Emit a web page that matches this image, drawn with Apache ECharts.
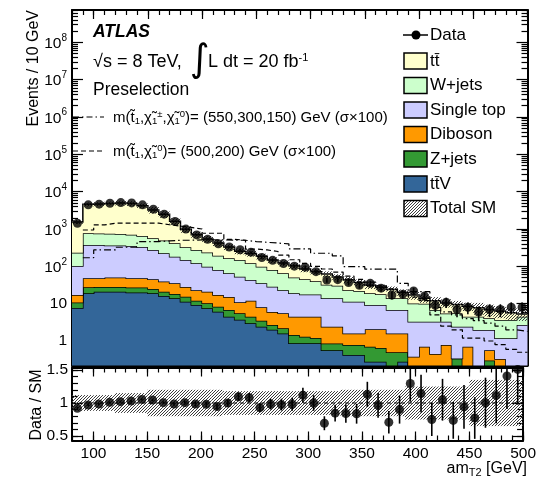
<!DOCTYPE html>
<html>
<head>
<meta charset="utf-8">
<title>amT2 preselection</title>
<script src="https://cdn.jsdelivr.net/npm/echarts@6.0.0/dist/echarts.min.js"></script>
<style>
html,body{margin:0;padding:0;background:#ffffff;}
#chart{width:539px;height:480px;}
</style>
</head>
<body>
<div id="chart"></div>
<script>
// am_T2 bins, lower edges in GeV (10 GeV wide)
const binLow = [80,90,100,110,120,130,140,150,160,170,180,190,200,210,220,230,240,250,260,270,
                280,290,300,310,320,330,340,350,360,370,380,390,400,410,420,430,440,450,460,470,480,490];
const binWidth = 10;

// Background yields, events / 10 GeV (stacked bottom to top)
const ttV = [7.7,19,21,21,21,20,20,19,16,14,11.3,9.2,7.5,6.1,4.5,3.7,3.0,2.4,2.0,1.6,
             0.87,0.87,0.87,0.57,0.57,0.42,0.42,0.28,0.28,0,0.28,0,0,0,0,0,0,0,0,0,0,0];
const zJets = [3.1,8.5,7,7,7,7,7,5.8,5,4.2,4.1,2.8,2.7,2.2,2.3,1.8,1.5,1.1,0.7,0.6,
               0.58,0.43,0.33,0.29,0.29,0.36,0.36,0.42,0.37,0.5,0.22,0,0,0,0,0.34,0,0,0.3,0,0,0];
const diboson = [6.2,20.5,20,22,22,21,21,20.2,18,16.8,12.6,11,10.8,8.7,8.2,5.5,7.5,4.5,3.3,3.3,
                 3.05,3.2,3.3,1.54,1.54,0.82,0.82,1.36,1.41,1.1,1.1,0.38,0.7,0.45,0.78,0,0.7,0,0.27,0.33,0,0];
const singleTop = [85,327,322,310,310,302,282,230,185,147,120,98,77,63,50,42,31,27,22.6,17.5,
                   14.5,13,13,11.6,11.6,9.7,9.7,7.1,7.1,5.2,5.2,2.9,2.6,2.85,2.5,2.06,1.7,1.97,1.4,0.85,1.18,2.7];
const wJets = [128,395,390,390,380,350,320,290,266,233,177,154,136,111,100,95,78,63,51,42,
               31,27.5,22.5,18,16,11.7,10.7,9.8,8.8,7.2,7.2,6.9,6.7,3.5,2.2,3.1,2.1,2.5,2.1,2.5,2.5,1.8];
const ttbar = [1320,3800,3930,4100,4260,4150,3550,2685,2000,1195,665,430,306,234,165,107,101,87,68,57,
               53,40,32,30,22,21,15,12,9,10,6,6.8,4,5.2,5,4,4,3.3,2.9,2.6,2,0.8];

// Observed events per bin
const dataCounts = [1426,4433,4620,4899,5100,4996,4431,3396,2502,1586,995,694,529,402,330,279,240,172,145,119,
                    101,95,72,43,44,37,31,35,26,17,18,22,16,9,11,7,8,6,7,7,8,8];

// Relative uncertainty on the total SM prediction
const totalSMRelUnc = [0.12,0.12,0.12,0.12,0.15,0.15,0.15,0.2,0.2,0.2,0.2,0.2,0.2,0.2,0.18,0.18,0.18,0.18,0.18,0.18,
                       0.18,0.18,0.18,0.18,0.18,0.2,0.2,0.2,0.2,0.2,0.2,0.25,0.25,0.25,0.25,0.25,0.25,0.35,0.35,0.35,0.35,0.35];

// Signal benchmarks, cross section scaled by 100
const sigStopChargino = [null,170,275,275,325,325,460,460,480,500,500,510,510,510,500,500,460,440,420,400,
                         293,293,224,224,190,98,98,84,84,84,35,21,21,8,6,5,4,3.5,3,2.5,2,1.8];
const sigStopNeutralino = [null,940,1290,1430,1430,1430,1430,1430,1300,1200,1100,1000,770,770,530,500,290,275,250,200,
                           150,120,100,85,70,55,45,38,30,25,20,15,12,5,2.5,2,1.2,1.2,1.0,0.8,0.6,0.5];

// Axis tick positions
const xMajorTicks = [100,150,200,250,300,350,400,450,500];
const xMinorTicks = [80,90,100,110,120,130,140,150,160,170,180,190,200,210,220,230,240,250,260,270,280,290,
                     300,310,320,330,340,350,360,370,380,390,400,410,420,430,440,450,460,470,480,490,500];
const yMajorTicks = [1,10,100,1e3,1e4,1e5,1e6,1e7,1e8];
const ratioMajorTicks = [0.5,1,1.5];
const ratioMinorTicks = [0.5,0.6,0.7,0.8,0.9,1,1.1,1.2,1.3,1.4,1.5];

const FONT = '"Liberation Sans", Arial, Helvetica, sans-serif';
const Y_MIN = 0.221, Y_MAX = 7.33e8;
const R_MIN = 0.432, R_MAX = 1.538;
const X_MIN = 80, X_MAX = 500;
const nb = binLow.length;

const yMinorTicks = [];
for (let e = -1; e <= 8; e++) {
  for (let m = 2; m <= 9; m++) {
    const v = m * Math.pow(10, e);
    if (v > Y_MIN && v < Y_MAX) yMinorTicks.push(v);
  }
}

const layers = [
  { name: 'ttV', values: ttV, color: '#336699' },
  { name: 'Z+jets', values: zJets, color: '#339933' },
  { name: 'Diboson', values: diboson, color: '#ff9900' },
  { name: 'Single top', values: singleTop, color: '#ccccff' },
  { name: 'W+jets', values: wJets, color: '#ccffcc' },
  { name: 'ttbar', values: ttbar, color: '#ffffcc' }
];
const cum = [];
layers.forEach((l, L) => cum.push(l.values.map((v, i) => v + (L ? cum[L - 1][i] : 0))));
const totalSM = cum[cum.length - 1];

function makeHatch(color) {
  const c = document.createElement('canvas');
  c.width = 3; c.height = 3;
  const g = c.getContext('2d');
  g.strokeStyle = color; g.lineWidth = 1;
  g.beginPath();
  g.moveTo(0, 3); g.lineTo(3, 0);
  g.moveTo(-1, 1); g.lineTo(1, -1);
  g.moveTo(2, 4); g.lineTo(4, 2);
  g.stroke();
  return c;
}
const HATCH = { type: 'pattern', image: makeHatch('#3c3c3c'), repeat: 'repeat' };

const clampY = v => Math.min(Math.max(v, Y_MIN), Y_MAX);
const clampR = v => Math.min(Math.max(v, R_MIN), R_MAX);

// Filled step histogram for one stack layer, with its black top outline
function stackLayer(params, api) {
  const L = api.value(2);
  const upper = cum[L];
  const lower = L > 0 ? cum[L - 1] : null;
  const top = [], bot = [];
  for (let i = 0; i < nb; i++) {
    const x0 = binLow[i], x1 = binLow[i] + binWidth;
    const yt = clampY(upper[i]);
    const yb = lower ? clampY(lower[i]) : Y_MIN;
    top.push(api.coord([x0, yt]), api.coord([x1, yt]));
    bot.push(api.coord([x0, yb]), api.coord([x1, yb]));
  }
  return {
    type: 'group',
    children: [
      { type: 'polygon', shape: { points: top.concat(bot.slice().reverse()) }, style: { fill: layers[L].color, stroke: null } },
      { type: 'polyline', shape: { points: top }, style: { fill: null, stroke: '#000', lineWidth: 1.5 } }
    ]
  };
}

function bandRect(params, api) {
  const p0 = api.coord([api.value(0), api.value(3)]);
  const p1 = api.coord([api.value(1), api.value(2)]);
  return { type: 'rect', shape: { x: p0[0], y: p0[1], width: p1[0] - p0[0], height: p1[1] - p0[1] },
           style: { fill: HATCH, stroke: null } };
}

function errBar(params, api) {
  const a = api.coord([api.value(0), api.value(1)]);
  const b = api.coord([api.value(0), api.value(2)]);
  return { type: 'line', shape: { x1: a[0], y1: a[1], x2: b[0], y2: b[1] }, style: { stroke: '#000', lineWidth: 1.6 } };
}

const centers = binLow.map(x => x + binWidth / 2);
const ratio = dataCounts.map((d, i) => d / totalSM[i]);

const stepData = arr => binLow.map((x, i) => [x, arr[i]]).concat([[X_MAX, arr[nb - 1]]]);

// axis builders
function xAxisDef(grid, pos, ticks, len, withLine, withLabels) {
  return {
    type: 'value', gridIndex: grid, position: pos, min: X_MIN, max: X_MAX,
    axisLine: { show: withLine, onZero: false, lineStyle: { color: '#000', width: 2 } },
    axisTick: { show: true, inside: true, length: len, customValues: ticks, lineStyle: { color: '#000', width: 1.2 } },
    axisLabel: withLabels
      ? { show: true, customValues: ticks, margin: 5, color: '#000', fontFamily: FONT, fontSize: 15.5 }
      : { show: false },
    splitLine: { show: false }
  };
}
function yLogDef(pos, ticks, len, withLine, withLabels) {
  return {
    type: 'log', logBase: 10, gridIndex: 0, position: pos, min: Y_MIN, max: Y_MAX,
    axisLine: { show: withLine, onZero: false, lineStyle: { color: '#000', width: 2 } },
    axisTick: { show: true, inside: true, length: len, customValues: ticks, lineStyle: { color: '#000', width: 1.2 } },
    axisLabel: withLabels ? {
      show: true, customValues: ticks, margin: 5, color: '#000',
      formatter: v => {
        const e = Math.round(Math.log10(v));
        if (e === 0) return '{b|1}';
        if (e === 1) return '{b|10}';
        return '{b|10}{s|' + e + '}';
      },
      rich: {
        b: { fontFamily: FONT, fontSize: 15.5, color: '#000', verticalAlign: 'bottom' },
        s: { fontFamily: FONT, fontSize: 10, color: '#000', verticalAlign: 'top', padding: [0, 0, 9, 0] }
      }
    } : { show: false },
    splitLine: { show: false }
  };
}
function yRatioDef(pos, ticks, len, withLine, withLabels) {
  return {
    type: 'value', gridIndex: 1, position: pos, min: R_MIN, max: R_MAX,
    axisLine: { show: withLine, onZero: false, lineStyle: { color: '#000', width: 2 } },
    axisTick: { show: true, inside: true, length: len, customValues: ticks, lineStyle: { color: '#000', width: 1.2 } },
    axisLabel: withLabels
      ? { show: true, customValues: ticks, margin: 4, color: '#000', fontFamily: FONT, fontSize: 15.5 }
      : { show: false },
    splitLine: { show: false }
  };
}

const chart = echarts.init(document.getElementById('chart'), null, { renderer: 'canvas', width: 539, height: 480 });

const legendRows = [
  { label: 'tt\u0304', fill: '#ffffcc', y: 61 },
  { label: 'W+jets', fill: '#ccffcc', y: 85.5 },
  { label: 'Single top', fill: '#ccccff', y: 110 },
  { label: 'Diboson', fill: '#ff9900', y: 134.5 },
  { label: 'Z+jets', fill: '#339933', y: 159 },
  { label: 'tt\u0304V', fill: '#336699', y: 184 },
  { label: 'Total SM', fill: HATCH, y: 208.5 }
];

const richSig = {
  n: { fontFamily: FONT, fontSize: 15, fill: '#000' },
  d: { fontFamily: FONT, fontSize: 9.5, fill: '#000', verticalAlign: 'bottom', padding: [7, 0, 0, 0] },
  u: { fontFamily: FONT, fontSize: 9.5, fill: '#000', verticalAlign: 'top', padding: [0, 0, 7, 0] }
};

const graphics = [
  { type: 'text', x: 93, y: 32, style: { text: 'ATLAS', font: 'italic bold 17.5px ' + FONT, fill: '#000', verticalAlign: 'middle' } },
  { type: 'text', x: 93, y: 62, style: { text: '\u221As = 8 TeV,', font: '18px ' + FONT, fill: '#000', verticalAlign: 'middle' } },
  { type: 'text', x: 190, y: 61, style: { text: '\u222B', font: '38px "DejaVu Sans", ' + FONT, fill: '#000', verticalAlign: 'middle' } },
  { type: 'text', x: 208, y: 62, style: {
      text: '{n|L dt = 20 fb}{s|-1}', verticalAlign: 'middle',
      rich: { n: { fontFamily: FONT, fontSize: 18, fill: '#000', verticalAlign: 'bottom' },
              s: { fontFamily: FONT, fontSize: 11, fill: '#000', verticalAlign: 'top', padding: [0, 0, 8, 0] } } } },
  { type: 'text', x: 93, y: 90, style: { text: 'Preselection', font: '17.5px ' + FONT, fill: '#000', verticalAlign: 'middle' } },
  { type: 'line', shape: { x1: 73, y1: 117, x2: 104, y2: 117 }, style: { stroke: '#000', lineWidth: 1.2, lineDash: [6, 3, 1.5, 3] } },
  { type: 'text', x: 113, y: 118, style: {
      text: '{n|m(t\u0303}{d|1}{n|,\u03C7\u0303}{d|1}{u|\u00B1}{n|,\u03C7\u0303}{d|1}{u|0}{n|)= (550,300,150) GeV (\u03C3\u00D7100)}',
      verticalAlign: 'middle', rich: richSig } },
  { type: 'line', shape: { x1: 73, y1: 151, x2: 104, y2: 151 }, style: { stroke: '#000', lineWidth: 1.2, lineDash: [5, 3] } },
  { type: 'text', x: 113, y: 152, style: {
      text: '{n|m(t\u0303}{d|1}{n|,\u03C7\u0303}{d|1}{u|0}{n|)= (500,200) GeV (\u03C3\u00D7100)}',
      verticalAlign: 'middle', rich: richSig } },
  // legend: data marker
  { type: 'line', shape: { x1: 403, y1: 35, x2: 428, y2: 35 }, style: { stroke: '#000', lineWidth: 1.5 } },
  { type: 'circle', shape: { cx: 416, cy: 35, r: 4.5 }, style: { fill: '#000' } },
  { type: 'text', x: 430, y: 35, style: { text: 'Data', font: '17px ' + FONT, fill: '#000', verticalAlign: 'middle' } },
  // axis titles
  { type: 'text', x: 34, y: 10, rotation: Math.PI / 2, style: { text: 'Events / 10 GeV', font: '16px ' + FONT, fill: '#000', align: 'right', verticalAlign: 'middle' } },
  { type: 'text', x: 37, y: 405, rotation: Math.PI / 2, style: { text: 'Data / SM', font: '16px ' + FONT, fill: '#000', align: 'center', verticalAlign: 'middle' } },
  { type: 'text', x: 527, y: 469, style: {
      text: '{n|am}{d|T2}{n| [GeV]}', align: 'right', verticalAlign: 'middle',
      rich: { n: { fontFamily: FONT, fontSize: 16, fill: '#000' },
              d: { fontFamily: FONT, fontSize: 11, fill: '#000', verticalAlign: 'bottom', padding: [7, 0, 0, 0] } } } }
];
legendRows.forEach(r => {
  graphics.push({ type: 'rect', shape: { x: 404, y: r.y - 8, width: 23, height: 16 }, style: { fill: r.fill, stroke: '#000', lineWidth: 1.5 } });
  graphics.push({ type: 'text', x: 430, y: r.y, style: { text: r.label, font: '17px ' + FONT, fill: '#000', verticalAlign: 'middle' } });
});

const option = {
  animation: false,
  backgroundColor: '#ffffff',
  grid: [
    { left: 72, top: 10, width: 455.5, height: 355.5 },
    { left: 72, top: 367.5, width: 455.5, height: 73 }
  ],
  xAxis: [
    xAxisDef(0, 'bottom', xMajorTicks, 9, true, false),
    xAxisDef(0, 'bottom', xMinorTicks, 5, false, false),
    xAxisDef(0, 'top', xMajorTicks, 9, true, false),
    xAxisDef(0, 'top', xMinorTicks, 5, false, false),
    xAxisDef(1, 'bottom', xMajorTicks, 9, true, true),
    xAxisDef(1, 'bottom', xMinorTicks, 5, false, false),
    xAxisDef(1, 'top', xMajorTicks, 9, true, false),
    xAxisDef(1, 'top', xMinorTicks, 5, false, false)
  ],
  yAxis: [
    yLogDef('left', yMajorTicks, 11, true, true),
    yLogDef('left', yMinorTicks, 6, false, false),
    yLogDef('right', yMajorTicks, 11, true, false),
    yLogDef('right', yMinorTicks, 6, false, false),
    yRatioDef('left', ratioMajorTicks, 11, true, true),
    yRatioDef('left', ratioMinorTicks, 6, false, false),
    yRatioDef('right', ratioMajorTicks, 11, true, false),
    yRatioDef('right', ratioMinorTicks, 6, false, false)
  ],
  series: [
    {
      type: 'custom', name: 'SM stack', xAxisIndex: 0, yAxisIndex: 0, silent: true,
      renderItem: stackLayer,
      data: layers.map((l, L) => [X_MIN, 1, L])
    },
    {
      type: 'custom', name: 'Total SM', xAxisIndex: 0, yAxisIndex: 0, silent: true,
      renderItem: bandRect,
      data: binLow.map((x, i) => [x, x + binWidth, clampY(totalSM[i] * (1 - totalSMRelUnc[i])), clampY(totalSM[i] * (1 + totalSMRelUnc[i]))])
    },
    {
      type: 'line', name: 'stop-chargino', xAxisIndex: 0, yAxisIndex: 0, step: 'end', symbol: 'none', silent: true,
      lineStyle: { color: '#000', width: 1.2, type: [7, 3, 1.5, 3] },
      data: stepData(sigStopChargino)
    },
    {
      type: 'line', name: 'stop-neutralino', xAxisIndex: 0, yAxisIndex: 0, step: 'end', symbol: 'none', silent: true,
      lineStyle: { color: '#000', width: 1.2, type: [5, 3] },
      data: stepData(sigStopNeutralino)
    },
    {
      type: 'custom', name: 'Data errors', xAxisIndex: 0, yAxisIndex: 0, silent: true,
      renderItem: errBar,
      data: centers.map((x, i) => [x, clampY(dataCounts[i] - Math.sqrt(dataCounts[i])), clampY(dataCounts[i] + Math.sqrt(dataCounts[i]))])
    },
    {
      type: 'scatter', name: 'Data', xAxisIndex: 0, yAxisIndex: 0, symbol: 'circle', symbolSize: 9, silent: true,
      itemStyle: { color: '#000' },
      data: centers.map((x, i) => [x, dataCounts[i]])
    },
    {
      type: 'custom', name: 'Total SM ratio', xAxisIndex: 4, yAxisIndex: 4, silent: true,
      renderItem: bandRect,
      data: binLow.map((x, i) => [x, x + binWidth, clampR(1 - totalSMRelUnc[i]), clampR(1 + totalSMRelUnc[i])])
    },
    {
      type: 'line', name: 'unity', xAxisIndex: 4, yAxisIndex: 4, symbol: 'none', silent: true,
      lineStyle: { color: '#000', width: 1, type: [4, 3] },
      data: [[X_MIN, 1], [X_MAX, 1]]
    },
    {
      type: 'custom', name: 'Ratio errors', xAxisIndex: 4, yAxisIndex: 4, silent: true,
      renderItem: errBar,
      data: centers.map((x, i) => {
        const e = ratio[i] / Math.sqrt(dataCounts[i]);
        return [x, clampR(ratio[i] - e), clampR(ratio[i] + e)];
      })
    },
    {
      type: 'scatter', name: 'Data / SM', xAxisIndex: 4, yAxisIndex: 4, symbol: 'circle', symbolSize: 9, silent: true,
      itemStyle: { color: '#000' },
      data: centers.map((x, i) => [x, ratio[i]])
    }
  ],
  graphic: graphics
};
chart.setOption(option);
</script>
</body>
</html>
